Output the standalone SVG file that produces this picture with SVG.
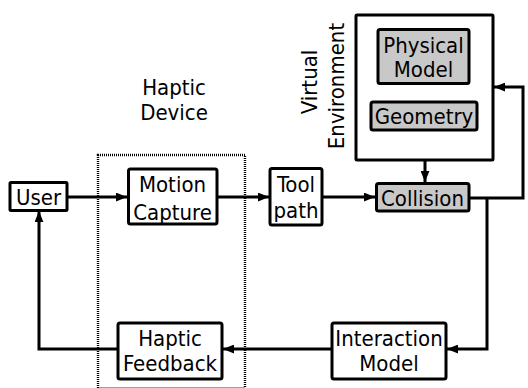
<svg xmlns="http://www.w3.org/2000/svg" width="528" height="388" viewBox="0 0 528 388">
<defs>
<style>
text{font-family:"DejaVu Sans Condensed","DejaVu Sans",sans-serif;font-stretch:condensed;font-size:22px;fill:#000;text-anchor:middle}
.box{fill:#fff;stroke:#000;stroke-width:3}
.gray{fill:#c8c8c8;stroke:#000;stroke-width:3}
.ln{fill:none;stroke:#000;stroke-width:3}
.dot{fill:none;stroke:#000;stroke-width:2.4;stroke-dasharray:1 1}
</style>
<marker id="ah" viewBox="0 0 10 8" refX="10" refY="4" markerWidth="11" markerHeight="9" markerUnits="userSpaceOnUse" orient="auto">
<path d="M0,0 L10,4 L0,8 Z" fill="#000"/>
</marker>
</defs>
<rect fill="#fff" width="528" height="388"/>
<g id="haptic-device">
<rect class="dot" x="98" y="155" width="147" height="233.5"/>
<text x="174" y="95">Haptic</text>
<text x="174" y="120">Device</text>
</g>
<g id="virtual-environment">
<rect class="box" x="356" y="15" width="137" height="145" rx="1"/>
<text transform="translate(317,82) rotate(-90)">Virtual</text>
<text transform="translate(344,86) rotate(-90)">Environment</text>
</g>
<g id="physical-model">
<rect class="gray" x="378" y="29.5" width="91" height="54" rx="2"/>
<text x="423.5" y="53">Physical</text>
<text x="423.5" y="77">Model</text>
</g>
<g id="geometry">
<rect class="gray" x="371" y="102" width="106" height="28" rx="2"/>
<text x="424" y="124">Geometry</text>
</g>
<g id="user">
<rect class="box" x="10" y="182.5" width="57" height="28" rx="1"/>
<text x="38.5" y="205">User</text>
</g>
<g id="motion-capture">
<rect class="box" x="128.5" y="169" width="88.5" height="55" rx="2"/>
<text x="172.5" y="191.5">Motion</text>
<text x="172.5" y="219.5">Capture</text>
</g>
<g id="tool-path">
<rect class="box" x="270" y="168.5" width="52" height="56.5" rx="2"/>
<text x="296" y="191.5">Tool</text>
<text x="296" y="217.5">path</text>
</g>
<g id="collision">
<rect class="gray" x="376.5" y="183.5" width="92.5" height="27.5" rx="2"/>
<text x="422.5" y="206">Collision</text>
</g>
<g id="interaction-model">
<rect class="box" x="332" y="323" width="114" height="56" rx="2"/>
<text x="389" y="345.5">Interaction</text>
<text x="389" y="371">Model</text>
</g>
<g id="haptic-feedback">
<rect class="box" x="118" y="323" width="104" height="56" rx="2"/>
<text x="170" y="345.5">Haptic</text>
<text x="170" y="371">Feedback</text>
</g>
<g id="connectors">
<path class="ln" d="M67,197 H127" marker-end="url(#ah)"/>
<path class="ln" d="M217,197 H269" marker-end="url(#ah)"/>
<path class="ln" d="M322,197 H375" marker-end="url(#ah)"/>
<path class="ln" d="M425,160 V182" marker-end="url(#ah)"/>
<path class="ln" d="M469,198 H523 V87 H494" marker-end="url(#ah)"/>
<path class="ln" d="M487,198 V349 H447" marker-end="url(#ah)"/>
<path class="ln" d="M332,349 H223" marker-end="url(#ah)"/>
<path class="ln" d="M118,349 H39 V211" marker-end="url(#ah)"/>
</g>
</svg>
